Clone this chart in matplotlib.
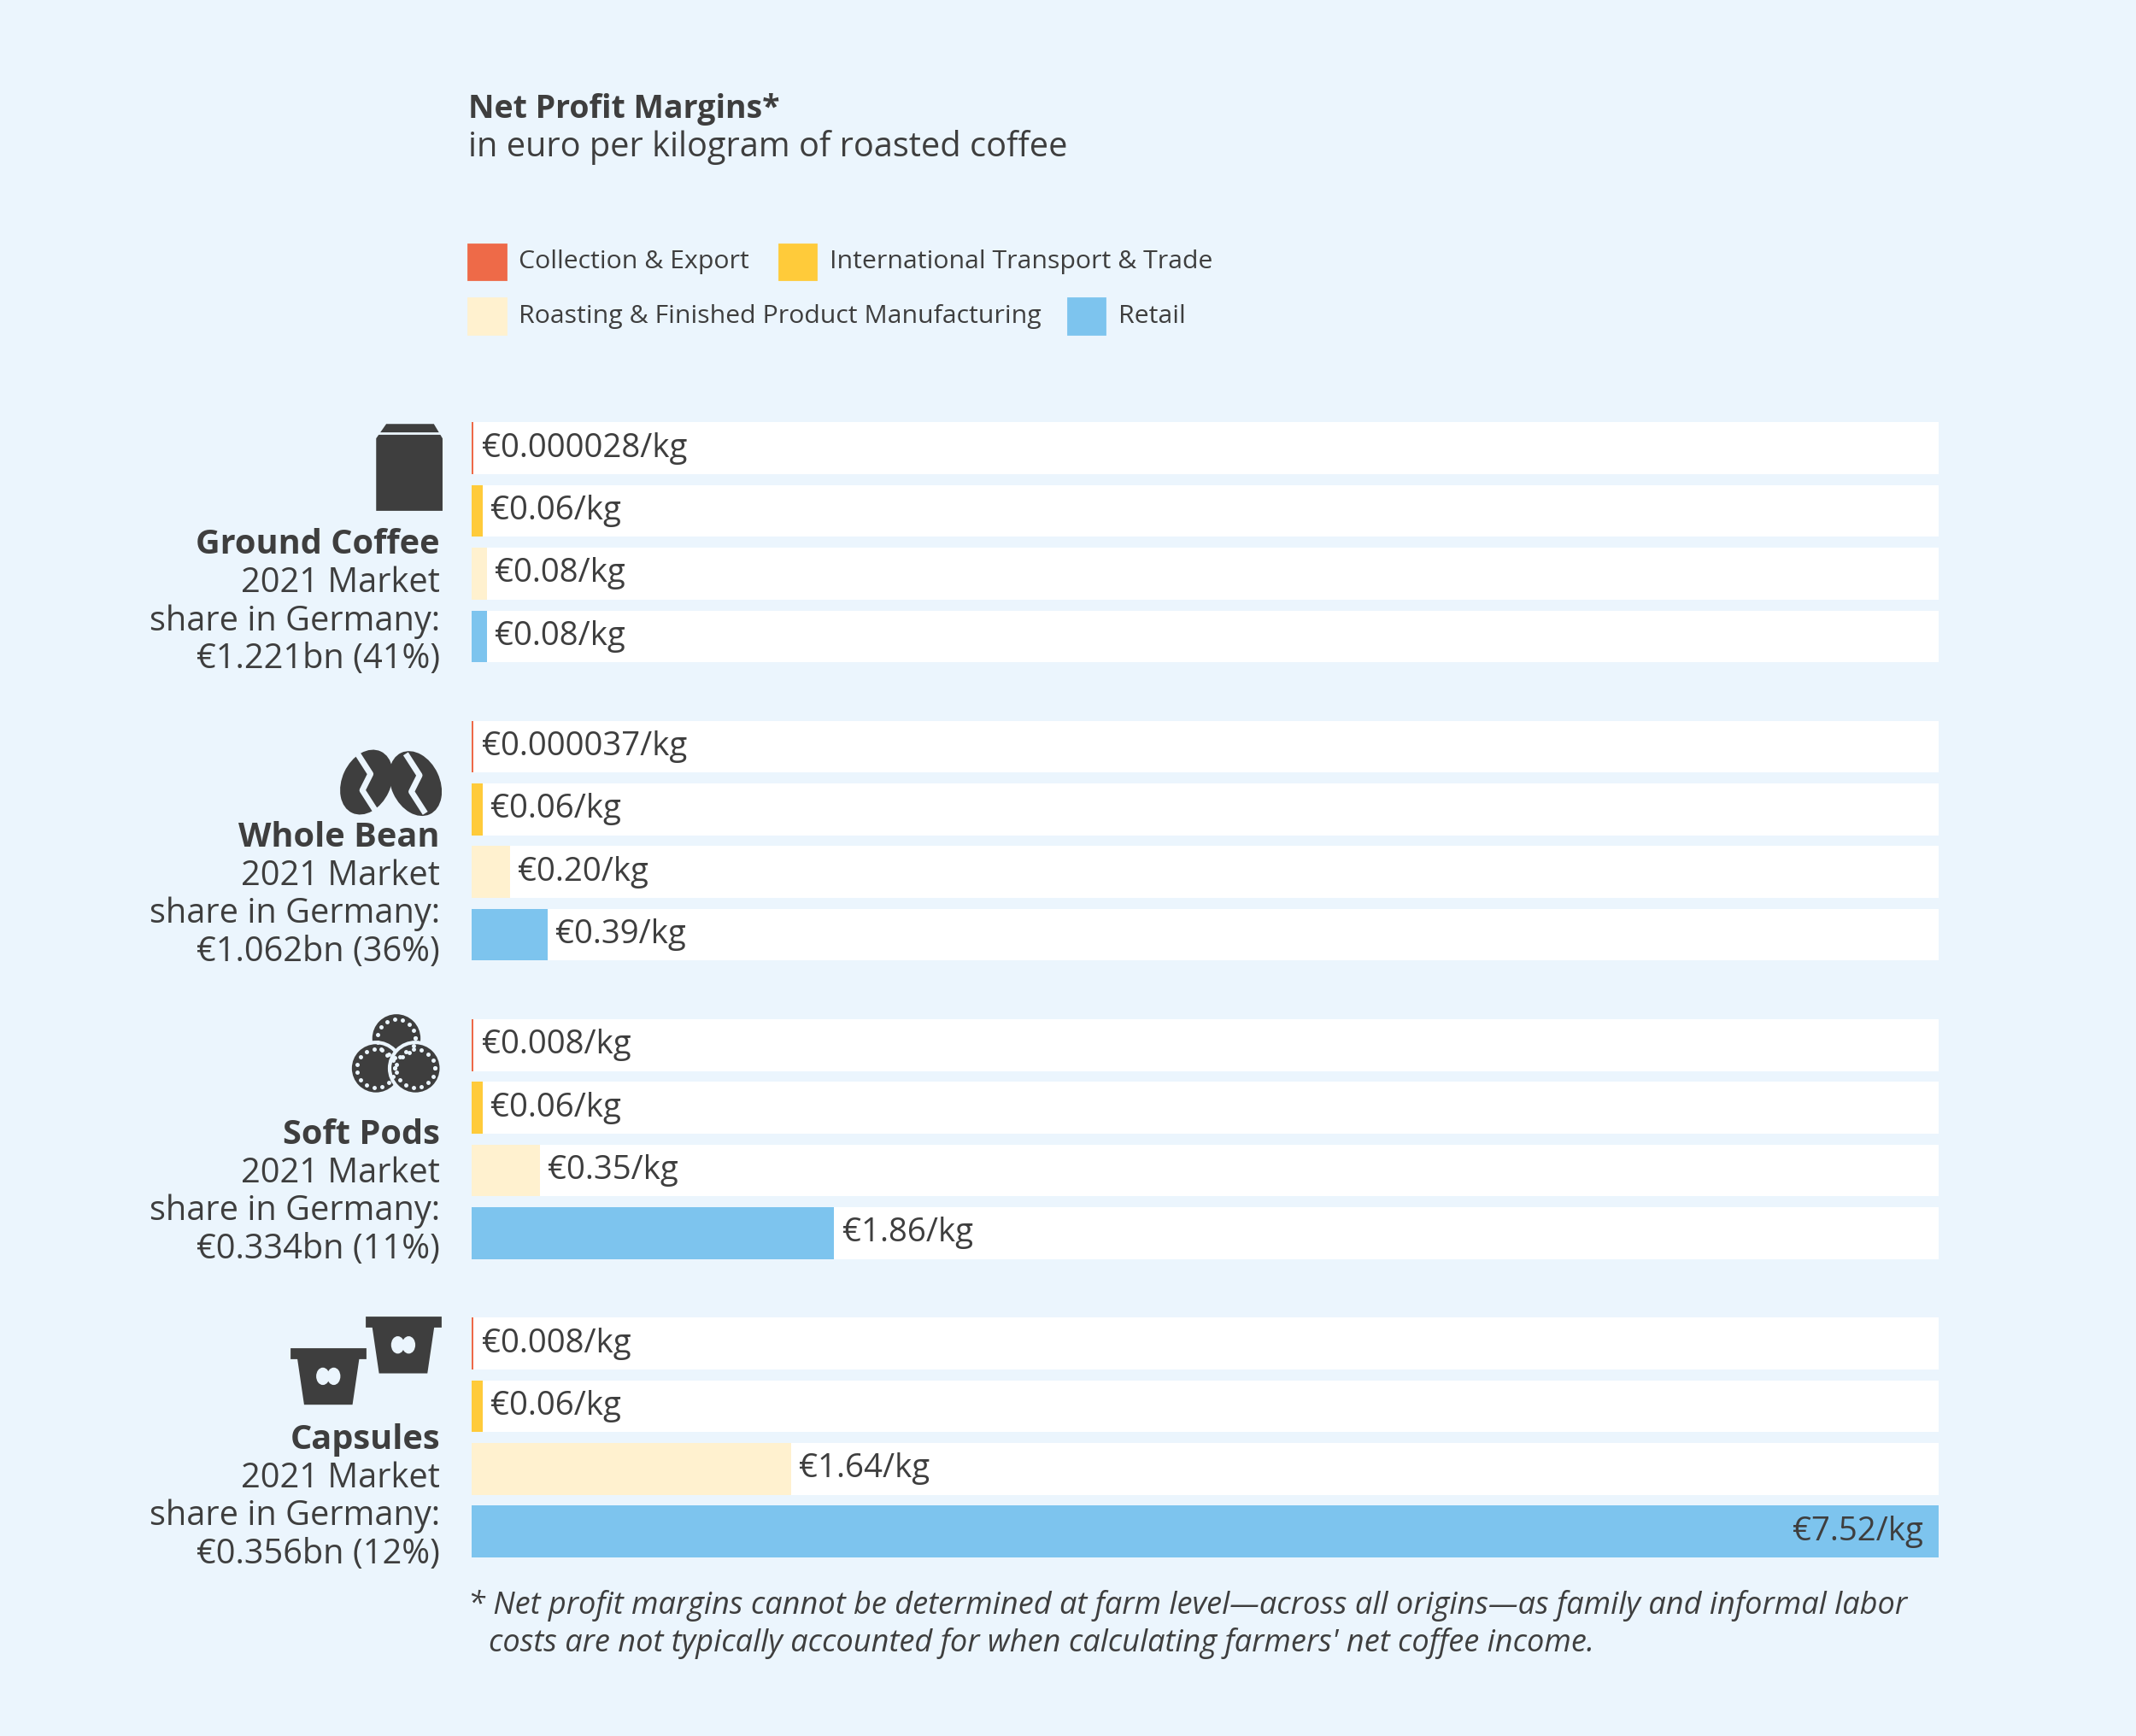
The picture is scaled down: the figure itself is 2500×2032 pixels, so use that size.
import matplotlib.pyplot as plt
import matplotlib.patches as mpatches
import numpy as np

plt.rcParams['font.family'] = ['Open Sans', 'DejaVu Sans']

products = ["Ground Coffee", "Whole Bean", "Soft Pods", "Capsules"]
shares = ["€1.221bn (41%)", "€1.062bn (36%)", "€0.334bn (11%)", "€0.356bn (12%)"]
stages = ["Collection & Export", "International Transport & Trade",
          "Roasting & Finished Product Manufacturing", "Retail"]
colors = ["#EE6A48", "#FFCB3A", "#FFF1CF", "#7DC4EE"]
values = [[0.000028, 0.06, 0.08, 0.08],
          [0.000037, 0.06, 0.20, 0.39],
          [0.008, 0.06, 0.35, 1.86],
          [0.008, 0.06, 1.64, 7.52]]
labels = [["€0.000028/kg", "€0.06/kg", "€0.08/kg", "€0.08/kg"],
          ["€0.000037/kg", "€0.06/kg", "€0.20/kg", "€0.39/kg"],
          ["€0.008/kg", "€0.06/kg", "€0.35/kg", "€1.86/kg"],
          ["€0.008/kg", "€0.06/kg", "€1.64/kg", "€7.52/kg"]]
xmax = 7.52

W, H = 1568, 1274
bg = "#EBF5FD"
dark = "#3E3E3E"
fig = plt.figure(figsize=(12.5, 10.16), dpi=200, facecolor=bg)

# overlay in reference pixel coords for text and icons
ov = fig.add_axes([0, 0, 1, 1], zorder=0)
ov.set_xlim(0, W); ov.set_ylim(H, 0); ov.axis("off")

ov.text(344, 80, "Net Profit Margins*", fontsize=13.5, fontweight="bold", color=dark, va="center")
ov.text(344, 108, "in euro per kilogram of roasted coffee", fontsize=14.3, color=dark, va="center")

leg = [(344, 192, 0), (572, 192, 1), (344, 232, 2), (784, 232, 3)]
for x, y, i in leg:
    ov.add_patch(mpatches.Rectangle((x, y - 13), 27, 26, color=colors[i]))
    ov.text(x + 37, y, stages[i], fontsize=10.9, color=dark, va="center")

# bar axes: x in euro, y in reference pixels
bx = fig.add_axes([346 / W, 1 - 1147 / H, (1423 - 346) / W, (1147 - 308) / H], zorder=1)
bx.set_xlim(0, xmax); bx.set_ylim(1147, 308); bx.axis("off")
bx.patch.set_alpha(0)

for g in range(4):
    for r in range(4):
        yc = 329 + g * 219 + r * 46
        bx.barh(yc, xmax, height=38, color="white", left=0)
        v = values[g][r]
        w = max(v, 0.012)
        bx.barh(yc, w, height=38, color=colors[r])
        if v >= xmax * 0.9:
            bx.text(v - 0.08, yc, labels[g][r], ha="right", va="center", fontsize=13.8, color=dark)
        else:
            bx.text(w + 0.04, yc, labels[g][r], ha="left", va="center", fontsize=13.8, color=dark)

# product labels
tops = [400, 615, 833, 1057]
for g in range(4):
    y = tops[g]
    ov.text(323, y, products[g], ha="right", va="center", fontsize=14.3, fontweight="bold", color=dark)
    ov.text(323, y + 28, "2021 Market", ha="right", va="center", fontsize=14.3, color=dark)
    ov.text(323, y + 56, "share in Germany:", ha="right", va="center", fontsize=14.3, color=dark)
    ov.text(323, y + 84, shares[g], ha="right", va="center", fontsize=14.3, color=dark)

# icons
# coffee bag
ov.add_patch(mpatches.Polygon([(277, 374), (277, 322), (284, 312), (318, 312), (324, 322), (324, 374)], color=dark))
ov.plot([277, 324], [318, 318], color=bg, lw=1)
# beans
for cx, cy, ang in [(269, 574, 25), (305, 575, -25)]:
    ov.add_patch(mpatches.Ellipse((cx, cy), 34, 48, angle=ang, color=dark))
    ov.plot([cx - 6, cx + 3, cx - 3, cx + 6], [cy - 20, cy - 6, cy + 6, cy + 20], color=bg, lw=2.5)
# pods
for cx, cy in [(291, 762), (276, 784), (305, 784)]:
    ov.add_patch(mpatches.Circle((cx, cy), 19, color=dark, ec=bg, lw=1.5))
    t = np.linspace(0, 2 * np.pi, 16)
    ov.scatter(cx + 14 * np.cos(t), cy + 14 * np.sin(t), s=0.6, color=bg, zorder=3)
# capsules
for cx, cy in [(241, 1008), (296, 985)]:
    ov.add_patch(mpatches.Rectangle((cx - 27, cy - 18), 54, 6, color=dark))
    ov.add_patch(mpatches.Polygon([(cx - 22, cy - 12), (cx + 22, cy - 12), (cx + 17, cy + 22), (cx - 17, cy + 22)], color=dark))
    ov.add_patch(mpatches.Ellipse((cx - 4, cy + 2), 8, 11, color=bg))
    ov.add_patch(mpatches.Ellipse((cx + 4, cy + 2), 8, 11, color=bg))

ov.text(344, 1178, "* Net profit margins cannot be determined at farm level—across all origins—as family and informal labor",
        fontsize=13, style="italic", color=dark, va="center")
ov.text(359, 1206, "costs are not typically accounted for when calculating farmers' net coffee income.",
        fontsize=13, style="italic", color=dark, va="center")

fig.savefig("out.png", dpi=200, facecolor=bg)
